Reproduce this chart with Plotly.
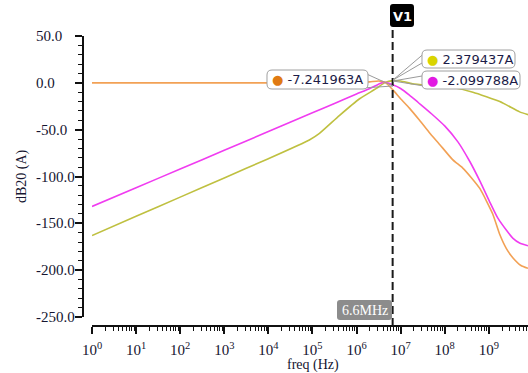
import plotly.graph_objects as go

W, H = 528, 373

# AC sweep: frequency in Hz (log10 exponents) and dB20 magnitudes of three currents
orange_logf = [0, 1, 2, 3, 4, 5, 5.6, 6.0, 6.3, 6.5, 6.65, 6.82, 7.0, 7.2, 7.43, 7.65, 7.89,
               8.18, 8.41, 8.6, 8.8, 9.09, 9.25, 9.4, 9.55, 9.73, 9.89]
orange_db = [0, 0, 0, 0, 0, 0, 0, 0.3, 1.0, 2.0, 0.5, -7.241963, -17, -27, -40, -53, -66,
             -82, -91, -101, -113, -140, -162, -177, -187, -195, -198]

magenta_logf = [0, 1, 2, 3, 4, 5, 5.5, 6.0, 6.3, 6.5, 6.62, 6.82, 7.0, 7.2, 7.4, 7.7,
                8.0, 8.3, 8.57, 8.8, 9.02, 9.2, 9.41, 9.55, 9.7, 9.89]
magenta_db = [-132, -112, -92, -72, -52, -32, -22, -12, -6, -1.5, 0.8, -2.099788, -6, -13,
              -21, -33, -46, -63, -84, -105, -127, -144, -158, -166, -171, -174]

yellow_logf = [0, 1, 2, 3, 4, 4.93, 5.16, 5.61, 6.07, 6.45, 6.65, 6.82, 7.0, 7.27, 7.6,
               8.05, 8.64, 9.25, 9.7, 9.89]
yellow_db = [-163, -142.5, -122, -101.5, -81, -61, -54, -35, -17, -6, 0.5, 2.379437, 2.0, -1,
             -2.5, -4, -10, -20, -31, -34]

cursor_freq = 6.6e6
cursor_text = "6.6MHz"
marker_labels = ["-7.241963A", "2.379437A", "-2.099788A"]

y_ticks = [50, 0, -50, -100, -150, -200, -250]
x_decades = list(range(0, 10))

ORANGE = "#F2A155"
MAGENTA = "#F03CF0"
YELLOW = "#BFC040"
SERIF = "Liberation Serif"
INK = "#151530"


def px(x):
    return x / W


def py(y):
    return 1 - y / H


def rrect(x0, y0, x1, y1, r):
    """Rounded rectangle path in paper coordinates from pixel corners."""
    pts = [
        ("M", x0 + r, y0), ("L", x1 - r, y0), ("Q", x1, y0, x1, y0 + r),
        ("L", x1, y1 - r), ("Q", x1, y1, x1 - r, y1), ("L", x0 + r, y1),
        ("Q", x0, y1, x0, y1 - r), ("L", x0, y0 + r), ("Q", x0, y0, x0 + r, y0),
    ]
    out = []
    for p in pts:
        if p[0] == "Q":
            out.append(f"Q{px(p[1]):.5f},{py(p[2]):.5f} {px(p[3]):.5f},{py(p[4]):.5f}")
        else:
            out.append(f"{p[0]}{px(p[1]):.5f},{py(p[2]):.5f}")
    return " ".join(out) + " Z"


fig = go.Figure()
for lf, db, col in [(yellow_logf, yellow_db, YELLOW),
                    (magenta_logf, magenta_db, MAGENTA),
                    (orange_logf, orange_db, ORANGE)]:
    fig.add_trace(go.Scatter(
        x=[10 ** v for v in lf], y=db, mode="lines",
        line=dict(color=col, width=1.6, shape="spline", smoothing=0.5),
        hoverinfo="skip", showlegend=False,
    ))

minor_vals = [m * 10 ** d for d in range(0, 10) for m in range(2, 10)]

fig.update_layout(
    template="none",
    width=W, height=H, autosize=False,
    margin=dict(l=0, r=0, t=0, b=0, pad=0),
    paper_bgcolor="white", plot_bgcolor="white",
    showlegend=False,
    xaxis=dict(
        type="log", range=[0, 9.89], domain=[px(92), 1],
        anchor="free", position=py(326), automargin=False,
        tickmode="array", tickvals=[10 ** d for d in x_decades],
        ticktext=[f"10<sup>{d}</sup>" for d in x_decades],
        ticks="outside", ticklen=7, tickwidth=1.5, tickcolor="#111",
        ticklabelstandoff=3,
        showline=True, linecolor="#111", linewidth=2,
        showgrid=False, zeroline=False,
        tickfont=dict(family=SERIF, size=15, color=INK),
        minor=dict(tickmode="array", tickvals=minor_vals, ticks="outside",
                   ticklen=4, tickwidth=1.2, tickcolor="#111", showgrid=False),
    ),
    yaxis=dict(
        range=[-250, 50], domain=[py(317), py(36)],
        anchor="free", position=px(83), automargin=False,
        tickmode="array", tickvals=y_ticks, showticklabels=False,
        ticks="outside", ticklen=7, tickwidth=1.5, tickcolor="#111",
        showline=True, linecolor="#111", linewidth=2,
        showgrid=False, zeroline=False,
        minor=dict(dtick=10, ticks="outside", ticklen=4, tickwidth=1.2,
                   tickcolor="#111", showgrid=False),
    ),
)

shapes = []
annotations = []

# left-aligned y tick labels
for v in y_ticks:
    annotations.append(dict(xref="paper", yref="y", x=px(34), y=v,
                            xanchor="left", yanchor="middle", showarrow=False,
                            text=f"{v:.1f}",
                            font=dict(family=SERIF, size=15, color=INK)))

# cursor line and its flag
shapes.append(dict(type="line", xref="x", yref="paper",
                   x0=cursor_freq, x1=cursor_freq, y0=py(326), y1=py(26),
                   line=dict(color="#1a1a1a", width=2, dash="8px,4px")))
shapes.append(dict(type="path", xref="paper", yref="paper",
                   path=rrect(390, 4, 414, 27, 3), fillcolor="#000", line=dict(width=0)))
annotations.append(dict(xref="paper", yref="paper", x=px(402), y=py(16),
                        xanchor="center", yanchor="middle",
                        text="<b>V1</b>", showarrow=False,
                        font=dict(family="DejaVu Sans", size=13, color="white")))

# frequency readout on the x axis
shapes.append(dict(type="path", xref="paper", yref="paper",
                   path=rrect(337, 300, 392, 320, 3), fillcolor="#8c8c8c", line=dict(width=0)))
annotations.append(dict(xref="paper", yref="paper", x=px(364.5), y=py(310),
                        xanchor="center", yanchor="middle",
                        text=cursor_text, showarrow=False,
                        font=dict(family=SERIF, size=14, color="white")))

# value callouts: (box, dot colour, text, pointer lines)
callouts = [
    ((267, 70, 368, 89), "#E07A12", marker_labels[0],
     [((360, 71), (393, 86)), ((362, 88), (393, 86))]),
    ((422, 50, 515, 68), "#D9D400", marker_labels[1],
     [((427, 51), (393, 80)), ((422, 63), (393, 80))]),
    ((422, 71, 520, 89), "#E21AE2", marker_labels[2],
     [((422, 76), (393, 81)), ((424, 86), (393, 81))]),
]
for (x0, y0, x1, y1), dot, txt, lines in callouts:
    for (a, b) in lines:
        shapes.append(dict(type="line", xref="paper", yref="paper",
                           x0=px(a[0]), y0=py(a[1]), x1=px(b[0]), y1=py(b[1]),
                           line=dict(color="#9a9a9a", width=1)))
    shapes.append(dict(type="path", xref="paper", yref="paper",
                       path=rrect(x0, y0, x1, y1, 5), fillcolor="white",
                       line=dict(color="#a0a0a0", width=1)))
    annotations.append(dict(xref="paper", yref="paper", x=px(x0 + 3), y=py((y0 + y1) / 2),
                            xanchor="left", yanchor="middle", showarrow=False,
                            text=f"<span style='color:{dot}'>●</span> {txt}",
                            font=dict(family="DejaVu Sans", size=13, color="#1c1c48")))

# axis titles
annotations.append(dict(xref="paper", yref="paper", x=px(313), y=py(365),
                        xanchor="center", yanchor="middle",
                        text="freq (Hz)", showarrow=False,
                        font=dict(family=SERIF, size=14, color=INK)))
annotations.append(dict(xref="paper", yref="paper", x=px(22), y=py(176),
                        xanchor="center", yanchor="middle",
                        text="dB20 (A)", showarrow=False, textangle=-90,
                        font=dict(family=SERIF, size=14, color=INK)))

fig.update_layout(shapes=shapes, annotations=annotations)
fig.write_html("out.html")
